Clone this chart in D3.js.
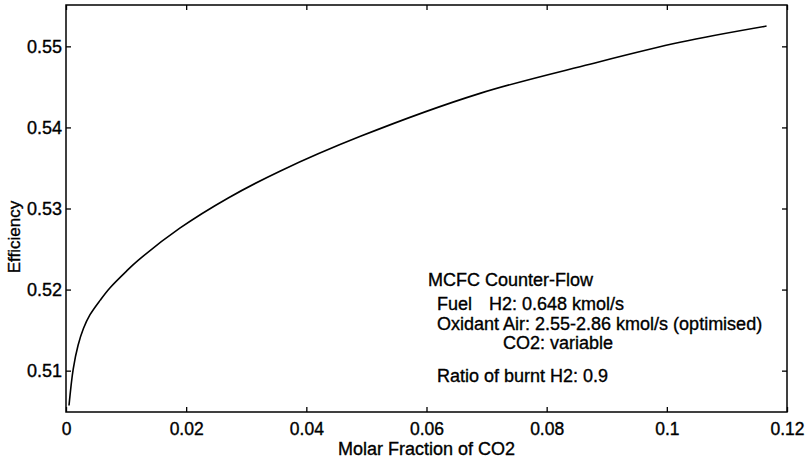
<!DOCTYPE html>
<html>
<head>
<meta charset="utf-8">
<script src="https://cdn.jsdelivr.net/npm/d3@7"></script>
<style>
  body { margin: 0; background: #fff; }
  text { font-family: "Liberation Sans", Arial, sans-serif; fill: #000; stroke: #000; stroke-width: 0.35px; }
</style>
</head>
<body>
<div id="chart"></div>
<script>
// CO2 molar fraction vs efficiency
const co2Fraction = [0.0005, 0.0012, 0.002, 0.0029, 0.004, 0.0057, 0.0073, 0.0101, 0.012, 0.019, 0.027, 0.0356, 0.049, 0.0689, 0.0872, 0.1022, 0.1166];
const efficiency = [0.5057, 0.5102, 0.5131, 0.5152, 0.5169, 0.5187, 0.5202, 0.5223, 0.5236, 0.5276, 0.5313, 0.5346, 0.5389, 0.5442, 0.5478, 0.5505, 0.5525];

const xTicks = [0, 0.02, 0.04, 0.06, 0.08, 0.1, 0.12];
const xTickLabels = ["0", "0.02", "0.04", "0.06", "0.08", "0.1", "0.12"];
const yTicks = [0.51, 0.52, 0.53, 0.54, 0.55];
const yTickLabels = ["0.51", "0.52", "0.53", "0.54", "0.55"];

const noteLines = [
  { text: "MCFC Counter-Flow", x: 428, y: 286 },
  { text: "Fuel", x: 437, y: 310 },
  { text: "H2: 0.648 kmol/s", x: 489, y: 310 },
  { text: "Oxidant Air: 2.55-2.86 kmol/s (optimised)", x: 437, y: 330 },
  { text: "CO2: variable", x: 503, y: 349 },
  { text: "Ratio of burnt H2: 0.9", x: 437, y: 382 },
];

const width = 810, height = 458;
const margin = { top: 5, right: 23, bottom: 46, left: 66 };
const innerW = width - margin.left - margin.right;
const innerH = height - margin.top - margin.bottom;

const svg = d3.select("#chart").append("svg")
  .attr("width", width)
  .attr("height", height);

const g = svg.append("g").attr("transform", `translate(${margin.left},${margin.top})`);

const x = d3.scaleLinear().domain([0, 0.12]).range([0, innerW]);
const y = d3.scaleLinear().domain([0.5049, 0.5551]).range([innerH, 0]);

// axes, ticks pointing inward (matlab style)
const xAxis = g.append("g")
  .attr("transform", `translate(0,${innerH})`)
  .call(d3.axisBottom(x).tickValues(xTicks).tickSize(-5).tickPadding(11)
    .tickFormat((d, i) => xTickLabels[i]));
const yAxis = g.append("g")
  .call(d3.axisLeft(y).tickValues(yTicks).tickSize(-5).tickPadding(4)
    .tickFormat((d, i) => yTickLabels[i]));
const xTop = g.append("g")
  .call(d3.axisTop(x).tickValues(xTicks).tickSize(-5).tickFormat(""));
const yRight = g.append("g")
  .attr("transform", `translate(${innerW},0)`)
  .call(d3.axisRight(y).tickValues(yTicks).tickSize(-5).tickFormat(""));

[xAxis, yAxis, xTop, yRight].forEach(a => {
  a.select(".domain").remove();
  a.selectAll(".tick line").attr("stroke", "#000").attr("stroke-width", 1.3);
});
xAxis.selectAll("text").style("font-size", "17.5px");
yAxis.selectAll("text").style("font-size", "18px");

g.append("rect")
  .attr("width", innerW)
  .attr("height", innerH)
  .attr("fill", "none")
  .attr("stroke", "#000")
  .attr("stroke-width", 1.5);

const line = d3.line()
  .x((d, i) => x(co2Fraction[i]))
  .y(d => y(d))
  .curve(d3.curveCatmullRom.alpha(0.5));

g.append("path")
  .datum(efficiency)
  .attr("d", line)
  .attr("fill", "none")
  .attr("stroke", "#000")
  .attr("stroke-width", 1.6);

// axis titles
svg.append("text")
  .attr("x", margin.left + innerW / 2)
  .attr("y", 455)
  .attr("text-anchor", "middle")
  .style("font-size", "18px")
  .text("Molar Fraction of CO2");

svg.append("text")
  .attr("transform", "translate(20,237) rotate(-90)")
  .attr("text-anchor", "middle")
  .style("font-size", "17px")
  .text("Efficiency");

// annotation block
svg.selectAll(".note")
  .data(noteLines)
  .join("text")
  .attr("class", "note")
  .attr("x", d => d.x)
  .attr("y", d => d.y)
  .style("font-size", "18px")
  .text(d => d.text);
</script>
</body>
</html>
